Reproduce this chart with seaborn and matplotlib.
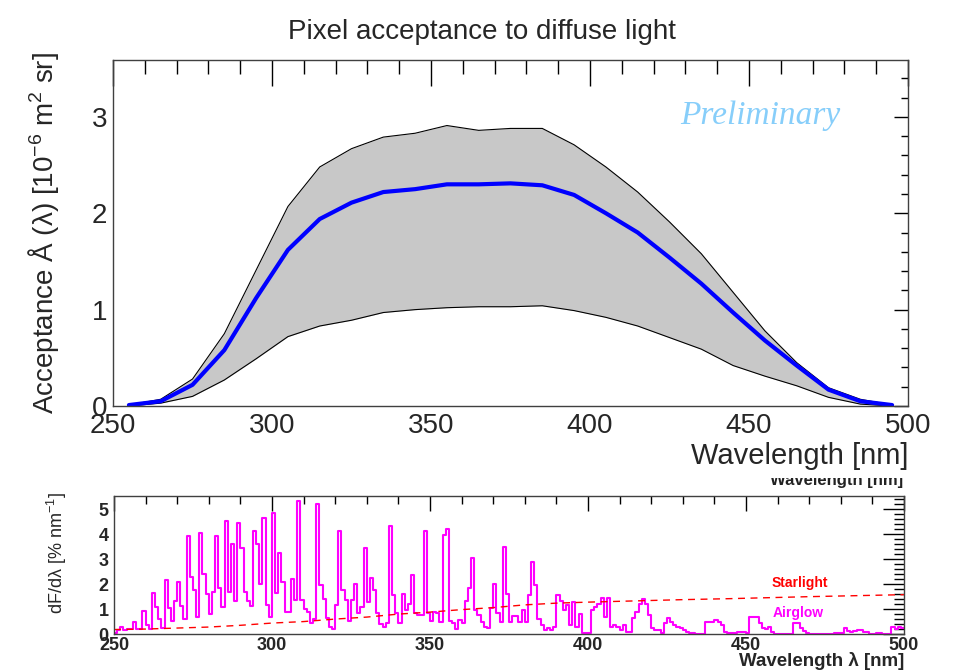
import numpy as np
import pandas as pd
import matplotlib.pyplot as plt
import seaborn as sns
from matplotlib.ticker import MultipleLocator
from matplotlib.transforms import Bbox, TransformedBbox

sns.set_theme(style="white")
plt.rcParams['font.family'] = ['Liberation Sans', 'DejaVu Sans']
plt.rcParams['mathtext.fontset'] = 'custom'
plt.rcParams['mathtext.rm'] = 'Liberation Sans'
plt.rcParams['mathtext.it'] = 'Liberation Sans:italic'
plt.rcParams['mathtext.bf'] = 'Liberation Sans:bold'


# 1. DATA

# pixel acceptance, every 10 nm
acc_wl = [255, 265, 275, 285, 295, 305, 315, 325, 335, 345, 355, 365, 375,
          385, 395, 405, 415, 425, 435, 445, 455, 465, 475, 485, 495]
acc_mean = [0.01, 0.05, 0.22, 0.58, 1.12, 1.62, 1.94, 2.11, 2.22, 2.25, 2.30, 2.30, 2.31,
            2.29, 2.19, 2.00, 1.80, 1.54, 1.27, 0.97, 0.68, 0.42, 0.17, 0.05, 0.01]
acc_high = [0.01, 0.07, 0.28, 0.75, 1.41, 2.07, 2.48, 2.67, 2.79, 2.83, 2.91, 2.86, 2.88,
            2.88, 2.71, 2.48, 2.22, 1.91, 1.58, 1.18, 0.78, 0.45, 0.19, 0.07, 0.01]
acc_low = [0.00, 0.03, 0.10, 0.27, 0.49, 0.72, 0.83, 0.89, 0.97, 1.00, 1.02, 1.03, 1.03,
           1.04, 0.99, 0.92, 0.83, 0.71, 0.59, 0.42, 0.31, 0.21, 0.09, 0.02, 0.00]

# airglow spectrum, 1 nm bins from 250 to 499 nm
airglow_wl = list(range(250, 500))
airglow_flux = [
    0.05, 0.15, 0.28, 0.17, 0.20, 0.20, 0.47, 0.20, 0.20, 0.93,   # 250
    0.37, 0.20, 1.64, 1.10, 0.60, 0.24, 2.17, 1.04, 0.53, 1.33,   # 260
    2.08, 1.13, 0.60, 3.93, 2.30, 1.77, 0.67, 4.06, 2.40, 1.60,   # 270
    0.80, 1.70, 3.93, 1.84, 1.07, 4.53, 1.67, 3.60, 1.33, 4.44,   # 280
    3.47, 1.67, 1.31, 1.13, 4.15, 3.60, 2.00, 4.67, 1.17, 0.67,   # 290
    4.84, 1.64, 3.24, 2.08, 0.88, 0.90, 2.20, 1.37, 5.35, 1.37,   # 300
    1.00, 0.90, 0.44, 0.60, 5.20, 1.97, 1.41, 0.64, 0.30, 0.20,   # 310
    1.17, 4.13, 1.77, 1.37, 0.53, 1.37, 2.00, 0.84, 1.10, 3.46,   # 320
    1.30, 2.26, 1.75, 0.84, 0.40, 0.30, 0.45, 4.35, 1.57, 0.84,   # 330
    0.44, 1.60, 0.97, 1.20, 2.37, 0.84, 0.77, 0.77, 4.13, 0.84,   # 340
    0.53, 0.90, 0.84, 0.50, 3.97, 4.20, 0.53, 0.44, 0.20, 0.57,   # 350
    0.44, 1.33, 1.84, 3.04, 0.97, 0.77, 0.50, 0.27, 0.24, 1.04,   # 360
    2.00, 0.85, 0.50, 3.50, 1.60, 0.50, 0.74, 0.74, 0.50, 0.97,   # 370
    0.50, 1.57, 2.88, 1.97, 0.61, 0.37, 0.17, 0.24, 0.17, 0.30,   # 380
    1.57, 1.33, 0.97, 1.17, 0.37, 1.30, 0.30, 0.80, 0.05, 0.05,   # 390
    0.05, 0.95, 1.10, 1.20, 1.45, 0.70, 1.45, 0.30, 0.35, 0.30,   # 400
    0.15, 0.35, 0.10, 0.10, 0.65, 0.90, 1.20, 1.40, 1.20, 0.75,   # 410
    0.24, 0.15, 0.15, 0.05, 0.44, 0.64, 0.50, 0.35, 0.30, 0.24,   # 420
    0.17, 0.10, 0.04, 0.04, 0.01, 0.01, 0.01, 0.48, 0.48, 0.50,   # 430
    0.57, 0.50, 0.37, 0.10, 0.04, 0.04, 0.04, 0.08, 0.08, 0.10,   # 440
    0.04, 0.70, 0.70, 0.67, 0.45, 0.24, 0.20, 0.27, 0.10, 0.01,   # 450
    0.01, 0.01, 0.01, 0.01, 0.01, 0.44, 0.44, 0.24, 0.13, 0.06,   # 460
    0.01, 0.01, 0.01, 0.01, 0.01, 0.01, 0.01, 0.01, 0.04, 0.04,   # 470
    0.04, 0.24, 0.13, 0.08, 0.13, 0.17, 0.17, 0.08, 0.08, 0.01,   # 480
    0.01, 0.04, 0.04, 0.01, 0.01, 0.01, 0.27, 0.20, 0.27, 0.24,   # 490
]
assert len(airglow_flux) == len(airglow_wl)

# starlight continuum
starlight_wl = [250, 260, 270, 280, 290, 300, 310, 320, 330, 340, 350,
                360, 370, 380, 390, 400, 415, 430, 445, 470, 500]
starlight_flux = [0.18, 0.20, 0.24, 0.28, 0.35, 0.44, 0.50, 0.60, 0.68, 0.80, 0.88,
                  0.98, 1.06, 1.17, 1.24, 1.28, 1.33, 1.38, 1.42, 1.50, 1.58]

title = "Pixel acceptance to diffuse light"


# 2. FIGURE

fig = plt.figure(figsize=(9.57, 6.71), dpi=100)
ax1 = fig.add_axes([0.1181, 0.3949, 0.8307, 0.5157])
ax2 = fig.add_axes([0.1191, 0.0551, 0.8255, 0.2057])


# 3. TOP PANEL - acceptance band

ax1.fill_between(acc_wl, acc_low, acc_high, color='#c8c8c8', lw=0)
sns.lineplot(x=acc_wl, y=acc_high, color='black', lw=0.8, ax=ax1)
sns.lineplot(x=acc_wl, y=acc_low, color='black', lw=0.8, ax=ax1)
sns.lineplot(x=acc_wl, y=acc_mean, color='#0000ff', lw=3, ax=ax1)

ax1.set_xlim(250, 500)
ax1.set_ylim(0, 3.59)
ax1.xaxis.set_major_locator(MultipleLocator(50))
ax1.xaxis.set_minor_locator(MultipleLocator(10))
ax1.yaxis.set_major_locator(MultipleLocator(1))
ax1.yaxis.set_minor_locator(MultipleLocator(0.2))
ax1.tick_params(which='both', direction='in', top=True, right=True,
                labelsize=20, color='black', width=1)
ax1.tick_params(axis='x', which='major', length=19, pad=5)
ax1.tick_params(axis='x', which='minor', length=10)
ax1.tick_params(axis='y', which='major', length=10, pad=4)
ax1.tick_params(axis='y', which='minor', length=5)

ax1.set_xlabel('Wavelength [nm]', fontsize=21, loc='right', labelpad=2)
ax1.set_ylabel('Acceptance Å (λ) [10$^{-6}$ m$^{2}$ sr]', fontsize=20, va='center')
ax1.yaxis.set_label_coords(-0.088, 0.5)

ax1.text(453.4, 3.01, 'Preliminary', family='Liberation Serif', style='italic',
         fontsize=24, color='#87cefa', ha='center', va='center')

fig.text(482 / 957, 1 - 32 / 671, title, ha='center', va='center', fontsize=20)


# 4. BOTTOM PANEL - airglow and starlight

sns.histplot(x=airglow_wl, weights=airglow_flux, binwidth=1, binrange=(250, 500),
             element='step', fill=False, color='#ff00ff', lw=1.5, ax=ax2)
sns.lineplot(x=starlight_wl, y=starlight_flux, color='red', lw=1, ax=ax2)
ax2.lines[-1].set_dashes([5, 4])

ax2.set_xlim(250, 500)
ax2.set_ylim(0, 5.54)
ax2.xaxis.set_major_locator(MultipleLocator(50))
ax2.xaxis.set_minor_locator(MultipleLocator(10))
ax2.yaxis.set_major_locator(MultipleLocator(1))
ax2.yaxis.set_minor_locator(MultipleLocator(0.2))
ax2.tick_params(which='both', direction='in', top=True, right=True,
                labelsize=13, color='black', width=1)
ax2.tick_params(axis='x', which='major', length=11, pad=2)
ax2.tick_params(axis='x', which='minor', length=6)
ax2.tick_params(axis='y', which='major', length=15, pad=4)
ax2.tick_params(axis='y', which='minor', length=7.5)
plt.setp(ax2.get_xticklabels() + ax2.get_yticklabels(), fontweight='bold')

ax2.set_xlabel('Wavelength λ [nm]', fontsize=13.5, fontweight='bold', loc='right', labelpad=-1)
ax2.set_ylabel('dF/dλ [% nm$^{-1}$]', fontsize=13, va='center')
ax2.yaxis.set_label_coords(-0.072, 0.59)

ax2.text(458.1, 2.05, 'Starlight', color='red', fontsize=10, fontweight='bold', va='center')
ax2.text(458.4, 0.85, 'Airglow', color='#ff00ff', fontsize=10, fontweight='bold', va='center')

# half-hidden axis title above the lower pad
ghost = fig.text(903 / 957, 1 - 481 / 671, 'Wavelength [nm]', ha='right', va='center',
                 fontsize=12, fontweight='bold', color='#222222')
ghost.set_clip_box(TransformedBbox(Bbox([[0, 0], [1, 1 - 478 / 671]]), fig.transFigure))
ghost.set_clip_on(True)

for ax in (ax1, ax2):
    for sp in ax.spines.values():
        sp.set_color('#404040')
        sp.set_linewidth(1)

fig.savefig('out.png', dpi=100)
